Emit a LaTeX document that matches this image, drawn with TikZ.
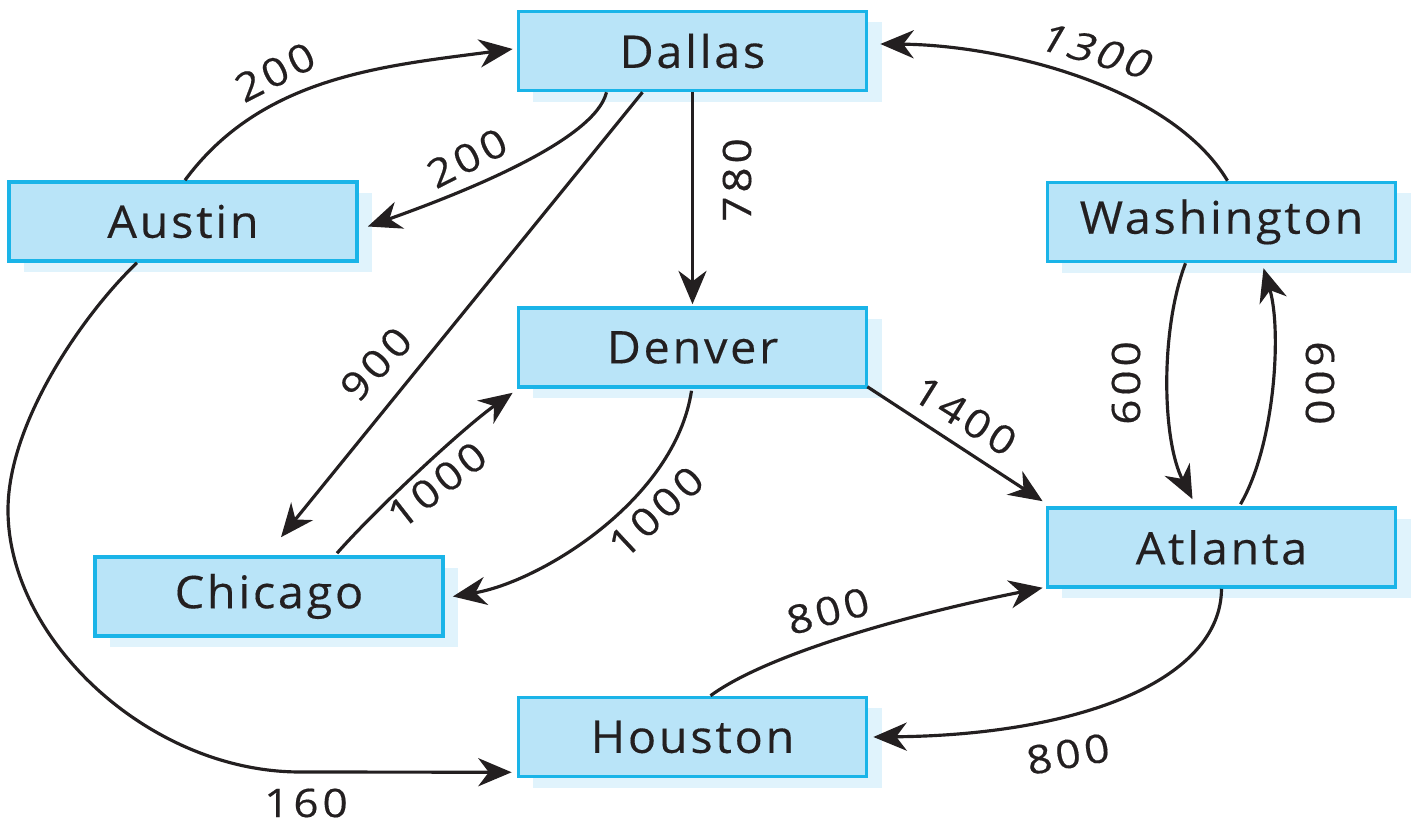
\documentclass[tikz,border=0pt]{standalone}
\usepackage{fontspec}
\setmainfont{Open Sans}[LetterSpace=6, FakeStretch=1.04, FakeBold=0.3]
\newfontfamily\numfont{Open Sans}[LetterSpace=10, FakeStretch=1.12, FakeBold=0.4]
\usetikzlibrary{arrows.meta,calc,shadows}
\definecolor{boxfill}{HTML}{B9E4F8}
\definecolor{boxline}{HTML}{1AB4E8}
\definecolor{boxshadow}{HTML}{E0F3FC}
\definecolor{ink}{HTML}{231F20}
\begin{document}
\begin{tikzpicture}[x=0.01cm,y=-0.01cm,
  city/.style={draw=boxline, line width=1pt, fill=boxfill,
    minimum width=3.48cm, minimum height=0.79cm, inner sep=0pt,
    font=\fontsize{12.8}{14}\selectfont, text=ink,
    drop shadow={shadow xshift=0.15cm, shadow yshift=-0.11cm, fill=boxshadow, opacity=1}},
  arr/.style={draw=ink, line width=0.9pt, -{Stealth[length=9.5pt,width=8pt,inset=3pt]}},
  lbl/.style={font=\numfont\fontsize{11.2}{13}\selectfont, text=ink, inner sep=0pt}]
\useasboundingbox (0,0) rectangle (1417,825);

% cities
\node[city] (dallas)     at (692.5,51)    {Dallas};
\node[city] (austin)     at (183,221.5)   {Austin};
\node[city] (washington) at (1221.5,222)  {Washington};
\node[city] (denver)     at (692.5,347.5) {Denver};
\node[city] (atlanta)    at (1221.5,547.5){Atlanta};
\node[city] (chicago)    at (269,596.5)   {Chicago};
\node[city] (houston)    at (692.5,737)   {Houston};

% connectors
\draw[arr] ($(austin.north)+(2,0)$) .. controls (262,76) and (384,66) .. ($(dallas.west)+(-4,-2)$);
\draw[arr] ($(dallas.south)+(-86,0)$) .. controls (595,140) and (465,192) .. ($(austin.east)+(9,5)$);
\draw[arr] ($(dallas.south)+(-50,0)$) -- ($(chicago.north)+(12,-18)$);
\draw[arr] (dallas.south) -- ($(denver.north)+(0,-2)$);
\draw[arr] ($(chicago.north)+(68,-2)$) .. controls (377,508) and (463,428) .. ($(denver.south west)+(-4,4)$);
\draw[arr] ($(denver.south)+(-1,2)$) .. controls (675,500) and (540,582) .. ($(chicago.east)+(8,0)$);
\draw[arr] ($(denver.south east)+(-1,-2)$) -- ($(atlanta.north west)+(-3,-5)$);
\draw[arr] ($(washington.north)+(6,0)$) .. controls (1170,85) and (1000,45) .. ($(dallas.east)+(12,-7)$);
\draw[arr] ($(washington.south)+(-36,0)$) .. controls (1160,330) and (1162,440) .. ($(atlanta.north)+(-29,-7)$);
\draw[arr] ($(atlanta.north)+(19,-2)$) .. controls (1275,445) and (1282,330) .. ($(washington.south)+(42,5)$);
\draw[arr] ($(houston.north)+(18,0)$) .. controls (770,652) and (920,612) .. ($(atlanta.south west)+(-3,-1)$);
\draw[arr] (atlanta.south) .. controls (1221,680) and (1080,735) .. ($(houston.east)+(5,0)$);
\draw[arr] ($(austin.south)+(-46,0)$) .. controls (87,310) and (8,420) .. (8,510)
   .. controls (8,640) and (150,772) .. (300,772) -- ($(houston.south west)+(-5,-6)$);

% weights
\node[lbl, rotate=27]  (w1)  at (275,72)   {200};
\node[lbl, rotate=27]  (w2)  at (467,158)  {200};
\node[lbl, rotate=47]  (w3)  at (376,364)  {900};
\node[lbl, rotate=90]  (w4)  at (737,180)  {780};
\node[lbl, rotate=38]  (w5)  at (437,485)  {1000};
\node[lbl, rotate=43]  (w6)  at (656,512)  {1000};
\node[lbl, rotate=-32] (w7)  at (965,416)  {1400};
\node[lbl, rotate=-16, xslant=0.25] (w8) at (1097,51) {1300};
\node[lbl, rotate=90]  (w9)  at (1126,383) {600};
\node[lbl, rotate=-90] (w10) at (1320,383) {600};
\node[lbl, rotate=15]  (w11) at (828,611)  {800};
\node[lbl, rotate=10]  (w12) at (1068,754) {800};
\node[lbl]             (w13) at (306,803)  {160};
\end{tikzpicture}
\end{document}
